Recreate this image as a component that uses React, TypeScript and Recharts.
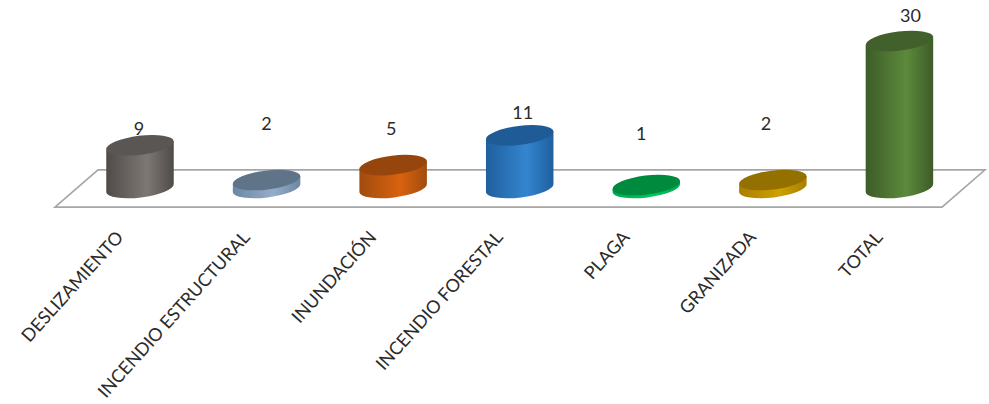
import { Bar, BarChart, LabelList, ReferenceArea, XAxis, YAxis } from "recharts"

const categories = [
  "DESLIZAMIENTO",
  "INCENDIO ESTRUCTURAL",
  "INUNDACIÓN",
  "INCENDIO FORESTAL",
  "PLAGA",
  "GRANIZADA",
  "TOTAL",
]
const values = [9, 2, 5, 11, 1, 2, 30]

// top face, side edge, side highlight
const topColors = ["#5a5654", "#5f7389", "#96460d", "#1f5c97", "#008a3e", "#937000", "#41602b"]
const edgeColors = ["#4f4b49", "#6d86a3", "#a04c0e", "#1f5f9e", "#00a84f", "#a87f00", "#3d5c28"]
const lightColors = ["#7e7874", "#95adc9", "#d9620f", "#3485cf", "#00c85f", "#cfa000", "#5c8a3c"]

// the labels float at uneven heights in the original
const labelLift = [17, 57, 37, 23, 52, 57, 26]
const labelShift = [-1, 0, -2, 3, -5, -7, 11]

const data = categories.map((name, i) => ({ name, value: values[i] }))

const TILT = (7 * Math.PI) / 180
const RY = 9.5
// the cap sits a little under the value because of the 3D view
const CAP_DROP = 2

function Cylinder(props: any) {
  const { x, y, width, height, index } = props
  const rx = width / 2
  const cx = x + rx
  const dx = rx * Math.cos(TILT)
  const dy = rx * Math.sin(TILT)
  const deg = -7
  const base = y + height
  const top = y + CAP_DROP
  const side = [
    `M${cx - dx} ${top + dy}`,
    `L${cx - dx} ${base + dy}`,
    `A${rx} ${RY} ${deg} 0 0 ${cx + dx} ${base - dy}`,
    `L${cx + dx} ${top - dy}`,
    "Z",
  ].join(" ")
  return (
    <g>
      <path d={side} fill={`url(#side${index})`} />
      <ellipse
        cx={cx}
        cy={top}
        rx={rx}
        ry={RY}
        transform={`rotate(${deg} ${cx} ${top})`}
        fill={topColors[index]}
      />
    </g>
  )
}

function Floor(props: any) {
  const { x, y, width, height } = props
  const depth = 43
  const left = x - 22
  const right = x + width + 22
  const points = [
    [left, y + height],
    [left + depth, y],
    [right, y],
    [right - depth, y + height],
  ]
  return (
    <polygon
      points={points.map((p) => p.join(",")).join(" ")}
      fill="none"
      stroke="#a6a6a6"
      strokeWidth={1.6}
    />
  )
}

function SlantedTick({ x, y, payload }: any) {
  return (
    <text
      x={x - 16}
      y={y + 42}
      textAnchor="end"
      fontFamily="Lato"
      fontSize={18}
      fill="#2b2b2b"
      transform={`rotate(-48 ${x - 16} ${y + 42})`}
    >
      {payload.value}
    </text>
  )
}

function ValueLabel({ x, y, width, value, index }: any) {
  return (
    <text
      x={x + width / 2 + labelShift[index]}
      y={y - labelLift[index]}
      dy={8.5}
      textAnchor="middle"
      fontFamily="Lato"
      fontSize={18}
      fill="#2b2b2b"
    >
      {value}
    </text>
  )
}

export default function App() {
  return (
    <div style={{ position: "absolute", left: 0, top: 0, width: 989, height: 404 }}>
      <BarChart
        width={989}
        height={404}
        data={data}
        margin={{ top: 39, right: 26, bottom: 16, left: 77 }}
      >
        <defs>
          {edgeColors.map((edge, i) => (
            <linearGradient key={edge} id={`side${i}`} x1="0" y1="0" x2="1" y2="0">
              <stop offset="0%" stopColor={edge} />
              <stop offset="60%" stopColor={lightColors[i]} />
              <stop offset="100%" stopColor={edge} />
            </linearGradient>
          ))}
        </defs>
        <XAxis
          dataKey="name"
          interval={0}
          height={200}
          axisLine={false}
          tickLine={false}
          tick={<SlantedTick />}
        />
        <YAxis hide domain={[0, 30]} />
        <ReferenceArea
          x1={categories[0]}
          x2={categories[6]}
          y1={3.65}
          y2={-3.85}
          ifOverflow="visible"
          shape={<Floor />}
        />
        <Bar dataKey="value" barSize={68} isAnimationActive={false} shape={<Cylinder />}>
          <LabelList dataKey="value" content={<ValueLabel />} />
        </Bar>
      </BarChart>
    </div>
  )
}
